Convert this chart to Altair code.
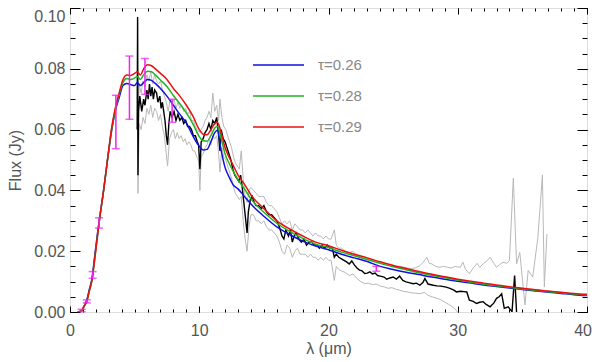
import altair as alt
import pandas as pd

# ---------------- data ----------------
model_x = [0.6, 0.9, 1.1, 1.3, 1.5, 1.7, 1.9, 2.1, 2.3,
           2.6, 2.9, 3.2, 3.5, 3.8, 4.1, 4.4, 4.7, 5.0,
           5.2, 5.45, 5.7, 6.0, 6.3, 6.6, 7.0, 7.5, 8.0,
           8.5, 9.0, 9.5, 10.0, 10.3, 10.6, 10.9, 11.2, 11.4,
           11.7, 12.0, 12.3, 12.6, 13.0, 13.5, 14.0,
           15, 16, 17, 18, 19, 20, 21, 22, 23, 24, 25, 26, 27, 28, 29, 30,
           31, 32, 33, 34, 35, 36, 37, 38, 39, 40]

model_026 = [0.0, 0.0005, 0.002, 0.004, 0.0075, 0.011, 0.018, 0.025, 0.031,
             0.040, 0.050, 0.059, 0.066, 0.0705, 0.0745, 0.0752, 0.0748, 0.0745,
             0.0755, 0.0745, 0.0755, 0.0765, 0.0762, 0.0752, 0.0735, 0.071, 0.068,
             0.065, 0.0622, 0.058, 0.0545, 0.0533, 0.0535, 0.056, 0.059, 0.0598,
             0.053, 0.0475, 0.0445, 0.042, 0.0405, 0.038, 0.0355,
             0.0315, 0.028, 0.0255, 0.0233, 0.0217, 0.0205, 0.019, 0.0178, 0.0166,
             0.0150, 0.0140, 0.0131, 0.0123, 0.0115, 0.0108, 0.0101, 0.0095, 0.0089,
             0.0084, 0.0079, 0.0074, 0.0069, 0.0065, 0.0061, 0.0057, 0.0054]

model_028 = [0.0, 0.0005, 0.002, 0.0035, 0.007, 0.0105, 0.017, 0.024, 0.031,
             0.040, 0.050, 0.0595, 0.0665, 0.0715, 0.0755, 0.0768, 0.0765, 0.077,
             0.0775, 0.0765, 0.078, 0.0792, 0.079, 0.078, 0.0763, 0.0742, 0.0712,
             0.0685, 0.0655, 0.062, 0.0577, 0.0563, 0.0562, 0.058, 0.0605, 0.061,
             0.057, 0.052, 0.049, 0.0465, 0.0435, 0.0405, 0.0372,
             0.0328, 0.0292, 0.0265, 0.0242, 0.0223, 0.0212, 0.0197, 0.0185, 0.0173,
             0.016, 0.0149, 0.0139, 0.0129, 0.0121, 0.0113, 0.0105, 0.0098, 0.0092,
             0.0086, 0.0081, 0.0076, 0.0071, 0.0067, 0.0063, 0.0059, 0.0056]

model_029 = [0.0, 0.0005, 0.002, 0.0035, 0.007, 0.0105, 0.017, 0.024, 0.031,
             0.040, 0.050, 0.060, 0.067, 0.072, 0.0765, 0.078, 0.0778, 0.0785,
             0.079, 0.078, 0.080, 0.0813, 0.081, 0.080, 0.0785, 0.0765, 0.0735,
             0.071, 0.068, 0.0645, 0.060, 0.0585, 0.0583, 0.060, 0.062, 0.0624,
             0.059, 0.054, 0.051, 0.0485, 0.045, 0.042, 0.0385,
             0.034, 0.030, 0.0273, 0.025, 0.023, 0.0218, 0.0203, 0.019, 0.0178,
             0.0165, 0.0153, 0.0143, 0.0133, 0.0124, 0.0116, 0.0108, 0.0101, 0.0095,
             0.0089, 0.0083, 0.0078, 0.0073, 0.0069, 0.0065, 0.0061, 0.0058]

model_labels = ["τ=0.26", "τ=0.28", "τ=0.29"]
model_colors = ["#1010e0", "#22b322", "#e81010"]

# observed spectrum
obs_x = [5.20, 5.23, 5.26, 5.30, 5.4, 5.55, 5.7, 5.8, 5.95, 6.05, 6.15, 6.25, 6.35, 6.45,
         6.55, 6.7, 6.8, 6.95, 7.05, 7.15, 7.25, 7.35, 7.45, 7.55, 7.65, 7.75, 7.9, 8.05,
         8.2, 8.35, 8.5, 8.65, 8.8, 8.95, 9.1, 9.25, 9.4, 9.55, 9.7, 9.85, 9.95, 10.05,
         10.15, 10.3, 10.45, 10.6, 10.75, 10.9, 11.05, 11.2, 11.35, 11.5, 11.6, 11.7,
         11.85, 12.0, 12.15, 12.3, 12.45, 12.6, 12.75, 12.9, 13.05, 13.2, 13.3, 13.45,
         13.6, 13.7, 13.8, 13.95, 14.1, 14.25, 14.4, 14.6, 14.8, 15.0, 15.2, 15.4, 15.6,
         15.8, 16.0, 16.2, 16.4, 16.55, 16.7, 16.9, 17.05, 17.2, 17.35, 17.5, 17.7, 17.9,
         18.1, 18.3, 18.5, 18.7, 18.9, 19.1, 19.3, 19.5, 19.7, 19.9, 20.1, 20.3, 20.45,
         20.6, 20.8, 21.0, 21.2, 21.4, 21.6, 21.8, 22.0, 22.2, 22.4, 22.6, 22.8, 23.0,
         23.2, 23.4, 23.6, 23.8, 24.0, 24.3, 24.5, 24.75, 25.0, 25.25, 25.5, 25.75, 26.0,
         26.3, 26.55, 26.8, 27.07, 27.3, 27.46, 27.7, 28.1, 28.4, 28.7, 29.1, 29.4, 29.7,
         29.9, 30.2, 30.5, 30.7, 30.9, 31.2, 31.45, 31.7, 31.96, 32.2, 32.5, 32.8, 33.0,
         33.2, 33.4, 33.6, 33.9, 34.2, 34.4, 34.55]
obs_y = [0.060, 0.097, 0.045, 0.066, 0.071, 0.066, 0.070, 0.068, 0.073, 0.070, 0.075, 0.071,
         0.074, 0.070, 0.073, 0.072, 0.069, 0.071, 0.067, 0.069, 0.066, 0.063, 0.058, 0.055,
         0.062, 0.066, 0.064, 0.066, 0.063, 0.065, 0.063, 0.064, 0.062, 0.063, 0.061, 0.061,
         0.060, 0.058, 0.058, 0.056, 0.055, 0.047, 0.056, 0.057, 0.059, 0.060, 0.062, 0.060,
         0.063, 0.062, 0.064, 0.058, 0.053, 0.060, 0.057, 0.056, 0.054, 0.052, 0.050, 0.047,
         0.045, 0.044, 0.043, 0.045, 0.042, 0.036, 0.030, 0.026, 0.033, 0.037, 0.038, 0.036,
         0.035, 0.035, 0.034, 0.035, 0.033, 0.032, 0.032, 0.031, 0.030, 0.028, 0.025, 0.024,
         0.027, 0.025, 0.027, 0.023, 0.025, 0.026, 0.024, 0.023, 0.024, 0.022, 0.023, 0.023,
         0.022, 0.022, 0.021, 0.022, 0.021, 0.022, 0.021, 0.021, 0.018, 0.019, 0.018, 0.0175,
         0.017, 0.0165, 0.0158, 0.0168, 0.0155, 0.0145, 0.0138, 0.0135, 0.0127, 0.0128,
         0.0132, 0.0125, 0.0128, 0.0120, 0.0118, 0.0115, 0.0108, 0.0112, 0.0115, 0.0108,
         0.0118, 0.0104, 0.0099, 0.0096, 0.0093, 0.0095, 0.0088, 0.0097, 0.0110, 0.0092,
         0.0088, 0.0086, 0.0085, 0.0082, 0.0078, 0.0072, 0.0066, 0.0068, 0.0067, 0.0066,
         0.0039, 0.0035, 0.0028, 0.0032, 0.0034, 0.0025, 0.0017, 0.0030, 0.0045, 0.0050,
         0.0060, 0.0012, 0.0017, 0.0001, 0.0120, 0.0]

# upper / lower uncertainty envelopes of the spectrum
up_x = [5.2, 5.23, 5.26, 5.35, 5.5, 5.65, 5.8, 5.95, 6.1, 6.25, 6.4, 6.55, 6.7, 6.85, 7.0,
        7.15, 7.3, 7.45, 7.6, 7.75, 7.9, 8.05, 8.2, 8.35, 8.5, 8.65, 8.8, 8.95, 9.1, 9.25,
        9.4, 9.55, 9.7, 9.85, 10.0, 10.15, 10.3, 10.45, 10.6, 10.75, 10.9, 11.05, 11.2,
        11.35, 11.5, 11.6, 11.75, 11.9, 12.05, 12.2, 12.35, 12.5, 12.65, 12.8, 12.95, 13.1,
        13.25, 13.4, 13.55, 13.7, 13.85, 14.0, 14.2, 14.4, 14.6, 14.8, 15.0, 15.2, 15.4,
        15.6, 15.8, 16.0, 16.2, 16.4, 16.6, 16.8, 17.0, 17.2, 17.4, 17.6, 17.8, 18.0, 18.2,
        18.4, 18.6, 18.8, 19.0, 19.2, 19.4, 19.6, 19.8, 20.0, 20.2, 20.45, 20.6, 20.8, 21.0,
        21.3, 21.6, 21.9, 22.2, 22.5, 22.8, 23.1, 23.4, 23.7, 24.0, 24.3, 24.6, 24.9, 25.2,
        25.5, 25.8, 26.1, 26.4, 26.7, 27.0, 27.3, 27.6, 27.8, 28.0, 28.3, 28.6, 28.9, 29.2,
        29.5, 29.8, 30.0, 30.2, 30.4, 30.6, 30.9, 31.2, 31.5, 31.7, 32.0, 32.3, 32.5, 32.8,
        33.0, 33.3, 33.5, 33.8, 34.0, 34.3, 34.55, 34.8, 35.2, 35.45, 35.8, 36.2, 36.55,
        36.7, 36.9]
up_y = [0.070, 0.095, 0.050, 0.075, 0.072, 0.076, 0.074, 0.078, 0.076, 0.079, 0.075, 0.078,
        0.076, 0.075, 0.076, 0.073, 0.071, 0.069, 0.066, 0.070, 0.068, 0.070, 0.067, 0.069,
        0.067, 0.068, 0.066, 0.067, 0.065, 0.066, 0.063, 0.063, 0.061, 0.060, 0.059, 0.060,
        0.061, 0.063, 0.064, 0.066, 0.064, 0.072, 0.066, 0.068, 0.063, 0.070, 0.064, 0.061,
        0.060, 0.058, 0.056, 0.054, 0.051, 0.049, 0.048, 0.047, 0.053, 0.044, 0.038, 0.036,
        0.040, 0.041, 0.040, 0.039, 0.038, 0.038, 0.038, 0.036, 0.035, 0.035, 0.034, 0.033,
        0.031, 0.029, 0.030, 0.029, 0.030, 0.027, 0.029, 0.028, 0.027, 0.027, 0.026, 0.027,
        0.026, 0.025, 0.026, 0.025, 0.025, 0.024, 0.025, 0.024, 0.024, 0.027, 0.022, 0.021,
        0.021, 0.020, 0.0195, 0.020, 0.0185, 0.018, 0.0175, 0.0175, 0.017, 0.0168, 0.0162,
        0.016, 0.0158, 0.0155, 0.0152, 0.0150, 0.0148, 0.0145, 0.0142, 0.0145, 0.0150,
        0.0162, 0.0180, 0.0160, 0.0158, 0.0150, 0.0147, 0.0150, 0.0147, 0.0145, 0.0150,
        0.0148, 0.0147, 0.0164, 0.0140, 0.0126, 0.0145, 0.0160, 0.0147, 0.0160, 0.0170,
        0.0180, 0.0160, 0.0147, 0.0158, 0.0164, 0.0160, 0.0169, 0.0440, 0.0158, 0.0196,
        0.0023, 0.0137, 0.0115, 0.0245, 0.0451, 0.0082, 0.0256]

lo_x = [5.2, 5.23, 5.26, 5.35, 5.5, 5.65, 5.8, 5.95, 6.1, 6.25, 6.4, 6.55, 6.7, 6.85, 7.0,
        7.15, 7.3, 7.45, 7.55, 7.7, 7.85, 8.0, 8.15, 8.3, 8.45, 8.6, 8.75, 8.9, 9.05, 9.2,
        9.35, 9.5, 9.65, 9.8, 9.95, 10.05, 10.15, 10.3, 10.45, 10.6, 10.75, 10.9, 11.05,
        11.2, 11.35, 11.5, 11.6, 11.75, 11.9, 12.05, 12.2, 12.35, 12.5, 12.65, 12.8, 12.95,
        13.1, 13.25, 13.4, 13.55, 13.7, 13.85, 14.0, 14.2, 14.4, 14.6, 14.8, 15.0, 15.2,
        15.4, 15.6, 15.8, 16.0, 16.2, 16.4, 16.6, 16.8, 17.0, 17.2, 17.4, 17.6, 17.8, 18.0,
        18.2, 18.4, 18.6, 18.8, 19.0, 19.2, 19.4, 19.6, 19.8, 20.0, 20.2, 20.45, 20.6, 20.8,
        21.0, 21.3, 21.6, 21.9, 22.2, 22.5, 22.8, 23.1, 23.4, 23.7, 24.0, 24.3, 24.6, 24.9,
        25.2, 25.5, 25.8, 26.1, 26.4, 26.7, 27.1, 27.4, 27.7, 28.0, 28.4, 28.7, 29.0, 29.3,
        29.6, 29.9, 30.1]
lo_y = [0.060, 0.080, 0.039, 0.062, 0.060, 0.064, 0.062, 0.067, 0.065, 0.068, 0.064, 0.067,
        0.066, 0.063, 0.065, 0.061, 0.058, 0.052, 0.048, 0.057, 0.059, 0.060, 0.057, 0.059,
        0.057, 0.058, 0.056, 0.057, 0.055, 0.056, 0.055, 0.053, 0.053, 0.051, 0.050, 0.040,
        0.051, 0.052, 0.054, 0.055, 0.057, 0.055, 0.058, 0.057, 0.058, 0.052, 0.046, 0.054,
        0.051, 0.050, 0.048, 0.046, 0.044, 0.041, 0.039, 0.038, 0.037, 0.038, 0.030, 0.024,
        0.020, 0.028, 0.032, 0.032, 0.030, 0.030, 0.029, 0.030, 0.028, 0.027, 0.027, 0.026,
        0.025, 0.023, 0.020, 0.019, 0.022, 0.021, 0.018, 0.020, 0.021, 0.019, 0.019, 0.019,
        0.018, 0.019, 0.018, 0.018, 0.017, 0.018, 0.017, 0.018, 0.017, 0.017, 0.0104, 0.015,
        0.014, 0.0135, 0.013, 0.012, 0.0125, 0.011, 0.010, 0.0093, 0.0095, 0.009, 0.0092,
        0.0085, 0.0083, 0.0078, 0.008, 0.0075, 0.0072, 0.0068, 0.0066, 0.0063, 0.0062,
        0.0060, 0.0065, 0.0055, 0.0050, 0.0045, 0.0040, 0.0032, 0.0025, 0.0017, 0.0005,
        -0.001]

# photometry with error bars
phot_x = [0.9, 1.3, 1.75, 2.25, 3.55, 4.6, 5.8, 7.9, 23.7]
phot_y = [0.0005, 0.0035, 0.0122, 0.0293, 0.0625, 0.0738, 0.0775, 0.0662, 0.0142]
phot_err = [0.0004, 0.0005, 0.0011, 0.0017, 0.0088, 0.0104, 0.0059, 0.0038, 0.0008]

x_major = [0, 10, 20, 30, 40]
x_minor = list(range(0, 41))
y_major = [0.0, 0.02, 0.04, 0.06, 0.08, 0.10]
y_minor = [round(i * 0.005, 3) for i in range(21)]

# ---------------- tables ----------------
models = pd.DataFrame({
    "x": model_x * 3,
    "y": model_026 + model_028 + model_029,
    "model": [model_labels[0]] * len(model_x) + [model_labels[1]] * len(model_x)
             + [model_labels[2]] * len(model_x),
})
obs = pd.DataFrame({"x": obs_x, "y": obs_y})
env = pd.DataFrame({
    "x": up_x + lo_x,
    "y": up_y + lo_y,
    "side": ["upper"] * len(up_x) + ["lower"] * len(lo_x),
})
phot = pd.DataFrame({
    "x": phot_x,
    "lo": [a - b for a, b in zip(phot_y, phot_err)],
    "hi": [a + b for a, b in zip(phot_y, phot_err)],
})
frame = pd.DataFrame({"x": [0, 40], "y": [0.0, 0.10]})

W, H = 517, 304
XS = alt.Scale(domain=[0, 40], nice=False, zero=False)
YS = alt.Scale(domain=[0, 0.10], nice=False, zero=False)
FONT = "Liberation Sans"
TXT = "#555555"

env_layer = alt.Chart(env).mark_line(color="#b8b8b8", strokeWidth=1, clip=True).encode(
    x=alt.X("x:Q", scale=XS, axis=None),
    y=alt.Y("y:Q", scale=YS, axis=None),
    detail="side:N",
)
obs_layer = alt.Chart(obs).mark_line(color="black", strokeWidth=1.4, clip=True).encode(
    x=alt.X("x:Q", scale=XS, axis=None),
    y=alt.Y("y:Q", scale=YS, axis=None),
)
model_layer = alt.Chart(models).mark_line(strokeWidth=1.5, clip=True, interpolate="monotone").encode(
    x=alt.X("x:Q", scale=XS, axis=None),
    y=alt.Y("y:Q", scale=YS, axis=None),
    color=alt.Color(
        "model:N",
        scale=alt.Scale(domain=model_labels, range=model_colors),
        legend=alt.Legend(
            title=None, orient="none", legendX=182, legendY=47,
            symbolType="stroke", symbolSize=2601, symbolStrokeWidth=1.5,
            clipHeight=20, rowPadding=11, labelOffset=13,
            labelFont=FONT, labelFontSize=15, labelColor="#888888",
        ),
    ),
)
err_rule = alt.Chart(phot).mark_rule(color="#ee22ee", strokeWidth=1.5).encode(
    x=alt.X("x:Q", scale=XS, axis=None),
    y=alt.Y("lo:Q", scale=YS, axis=None),
    y2="hi:Q",
)
cap_lo = alt.Chart(phot).mark_tick(color="#ee22ee", orient="horizontal", size=8, thickness=1.5).encode(
    x=alt.X("x:Q", scale=XS, axis=None),
    y=alt.Y("lo:Q", scale=YS, axis=None),
)
cap_hi = alt.Chart(phot).mark_tick(color="#ee22ee", orient="horizontal", size=8, thickness=1.5).encode(
    x=alt.X("x:Q", scale=XS, axis=None),
    y=alt.Y("hi:Q", scale=YS, axis=None),
)


def axis_layer(xaxis, yaxis):
    return alt.Chart(frame).mark_point(opacity=0).encode(
        x=alt.X("x:Q", scale=XS, axis=xaxis),
        y=alt.Y("y:Q", scale=YS, axis=yaxis),
    )


def tick_axis(orient, values, size, offset):
    return alt.Axis(orient=orient, values=values, labels=False, domain=False, grid=False,
                    ticks=True, tickSize=size, tickColor="black", tickWidth=1,
                    offset=offset, title=None)


labels_layer = axis_layer(
    alt.Axis(orient="bottom", values=x_major, format="d", ticks=False, domain=False, grid=False,
             labelFlush=True, labelFlushOffset=4.5,
             labelFont=FONT, labelFontSize=16, labelColor=TXT, labelPadding=10,
             title="λ (μm)", titleFont=FONT, titleFontSize=16, titleFontWeight="normal",
             titleColor=TXT, titlePadding=2),
    alt.Axis(orient="left", values=y_major[:-1], format=".2f", ticks=False, domain=False, grid=False,
             labelFlush=False,
             labelFont=FONT, labelFontSize=16, labelColor=TXT, labelPadding=5,
             title="Flux (Jy)", titleFont=FONT, titleFontSize=16, titleFontWeight="normal",
             titleColor=TXT, titlePadding=10),
)
top_label_layer = axis_layer(
    None,
    alt.Axis(orient="left", values=y_major[-1:], format=".2f", ticks=False, domain=False, grid=False,
             labelFlush=True,
             labelFont=FONT, labelFontSize=16, labelColor=TXT, labelPadding=5, title=None),
)
ticks_in_bl_major = axis_layer(tick_axis("top", x_major, 6, -H), tick_axis("right", y_major, 10, -W))
ticks_in_bl_minor = axis_layer(tick_axis("top", x_minor, 3, -H), tick_axis("right", y_minor, 5, -W))
ticks_in_tr_major = axis_layer(tick_axis("bottom", x_major, 6, -H), tick_axis("left", y_major, 10, -W))
ticks_in_tr_minor = axis_layer(tick_axis("bottom", x_minor, 3, -H), tick_axis("left", y_minor, 5, -W))

chart = alt.layer(
    labels_layer, top_label_layer,
    ticks_in_bl_major, ticks_in_bl_minor, ticks_in_tr_major, ticks_in_tr_minor,
    env_layer, obs_layer, model_layer, err_rule, cap_lo, cap_hi,
).resolve_axis(
    x="independent", y="independent"
).properties(
    width=W, height=H,
    autosize=alt.AutoSizeParams(type="none"),
    padding={"left": 62, "top": 0, "right": 5, "bottom": 46},
).configure_view(
    stroke="black", strokeWidth=1
).configure(background="white")

chart.save("out.html", embed_options={"renderer": "svg", "actions": False})
